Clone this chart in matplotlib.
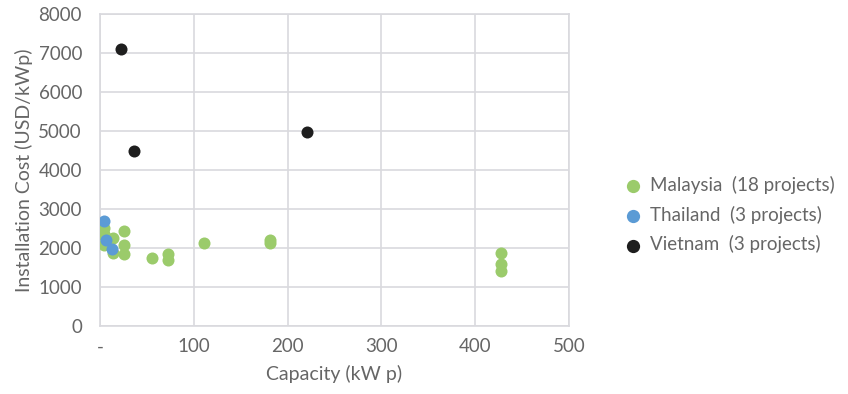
import numpy as np
import matplotlib.pyplot as plt

# capacity (kWp) and installation cost (USD/kWp) per project
malaysia_cap = [4, 4, 4, 5, 14, 14, 25, 25, 25, 55, 72, 72, 111, 181, 181, 428, 428, 428]
malaysia_cost = [2520, 2350, 2060, 2290, 2260, 1880, 2440, 2080, 1830, 1750, 1840, 1700, 2130, 2200, 2120, 1870, 1590, 1410]

thailand_cap = [4, 6, 13]
thailand_cost = [2700, 2210, 1960]

vietnam_cap = [22, 36, 221]
vietnam_cost = [7100, 4470, 4960]

labels = ["Malaysia  (18 projects)", "Thailand  (3 projects)", "Vietnam  (3 projects)"]
colors = ["#9BCB6B", "#5B9BD5", "#1E1E1E"]

plt.rcParams['font.family'] = ['Lato', 'DejaVu Sans']
txt = "#666666"

fig = plt.figure(figsize=(8.48, 3.94), dpi=100)
ax = fig.add_axes([0.118, 0.173, 0.553, 0.792])

ax.scatter(malaysia_cap, malaysia_cost, s=75, color=colors[0], label=labels[0], zorder=3, linewidths=0)
ax.scatter(thailand_cap, thailand_cost, s=75, color=colors[1], label=labels[1], zorder=4, linewidths=0)
ax.scatter(vietnam_cap, vietnam_cost, s=75, color=colors[2], label=labels[2], zorder=4, linewidths=0)

ax.set_xlim(0, 500)
ax.set_ylim(0, 8000)
ax.set_xticks(np.arange(0, 501, 100))
ax.set_xticklabels(["-", "100", "200", "300", "400", "500"])
ax.set_yticks(np.arange(0, 8001, 1000))
ax.grid(True, color="#D9D9DE", linewidth=1.2, zorder=0)
ax.set_axisbelow(True)
for s in ax.spines.values():
    s.set_color("#D9D9DE")
    s.set_linewidth(1.2)
ax.tick_params(length=0, labelsize=13.5, colors=txt)
ax.tick_params(axis="y", pad=13)
ax.tick_params(axis="x", pad=9)

ax.set_xlabel("Capacity (kW p)", fontsize=14, color=txt, labelpad=7)
ax.set_ylabel("Installation Cost (USD/kWp)", fontsize=14, color=txt, labelpad=4)

leg = fig.legend(loc="center left", bbox_to_anchor=(0.705, 0.455), frameon=False,
                 fontsize=13.5, handletextpad=-0.1, labelspacing=0.62, markerscale=1.1)
for t in leg.get_texts():
    t.set_color(txt)

fig.savefig("out.png", dpi=100)
